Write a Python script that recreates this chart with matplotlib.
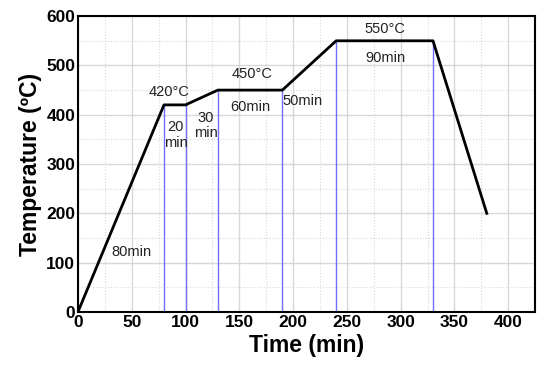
import matplotlib.pyplot as plt
from matplotlib.ticker import MultipleLocator

plt.rcParams['font.family'] = ['Liberation Sans', 'DejaVu Sans']

times = [0, 80, 100, 130, 190, 240, 330, 380]
temps = [0, 420, 420, 450, 450, 550, 550, 200]
marker_idx = [1, 2, 3, 4, 5, 6]

labels = ['80min', '420°C', '20\nmin', '30\nmin', '450°C', '60min', '50min', '550°C', '90min']
label_x = [50, 85, 91, 119, 162, 160, 209, 285, 286]
label_y = [122, 446, 359, 379, 482, 415, 428, 574, 515]

fig = plt.figure(figsize=(5.45, 3.67), dpi=100)
ax = fig.add_axes([0.143, 0.150, 0.839, 0.806])

for i in marker_idx:
    ax.plot([times[i], times[i]], [0, temps[i]], color='#7070ff', lw=1.0, zorder=2)
ax.plot(times, temps, color='black', lw=2.0, zorder=3)

for t, x, y in zip(labels, label_x, label_y):
    ax.text(x, y, t, ha='center', va='center', fontsize=10.5, color='#222222',
            linespacing=1.1, zorder=4)

ax.set_xlim(0, 425)
ax.set_ylim(0, 600)
ax.xaxis.set_major_locator(MultipleLocator(50))
ax.xaxis.set_minor_locator(MultipleLocator(25))
ax.yaxis.set_major_locator(MultipleLocator(100))
ax.yaxis.set_minor_locator(MultipleLocator(50))
ax.grid(which='major', color='#d8d8d8', lw=1.0, zorder=0)
ax.grid(which='minor', color='#d8d8d8', lw=0.8, ls=':', zorder=0)
ax.set_axisbelow(True)
ax.tick_params(which='both', length=0, labelsize=12.5, pad=2)
for lab in ax.get_xticklabels() + ax.get_yticklabels():
    lab.set_fontweight('bold')
for s in ax.spines.values():
    s.set_linewidth(1.5)

ax.set_xlabel('Time (min)', fontsize=16.5, fontweight='bold', labelpad=3)
ax.set_ylabel('Temperature (ºC)', fontsize=16.5, fontweight='bold', labelpad=3)

fig.savefig('out.png', dpi=100)
